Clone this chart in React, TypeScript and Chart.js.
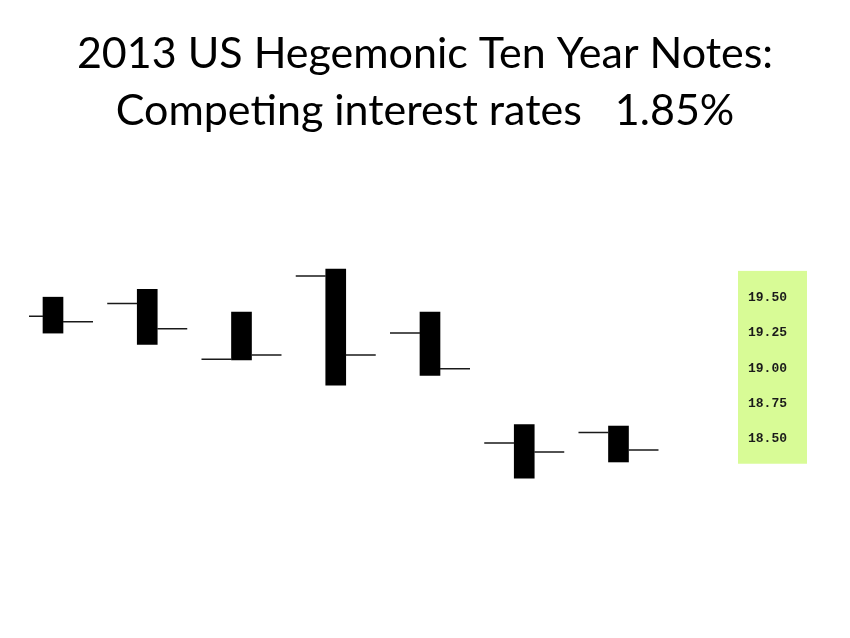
import React, { useEffect, useRef } from 'react';
import { Chart, registerables } from 'chart.js';

Chart.register(...registerables);

const TITLE_LINES = ['2013 US Hegemonic Ten Year Notes:', 'Competing interest rates   1.85%'];
const CATEGORIES = ['1', '2', '3', '4', '5', '6', '7'];
const OPENS = [19.37, 19.46, 19.065, 19.655, 19.25, 18.47, 18.545];
const HIGHS = [19.505, 19.56, 19.40, 19.705, 19.40, 18.60, 18.59];
const LOWS = [19.25, 19.17, 19.06, 18.88, 18.95, 18.22, 18.335];
const CLOSES = [19.33, 19.28, 19.095, 19.095, 18.997, 18.405, 18.42];
const Y_TICKS = [19.5, 19.25, 19.0, 18.75, 18.5];

const ohlcTicks = {
  id: 'ohlcTicks',
  afterDatasetsDraw(chart: any) {
    const { ctx, chartArea } = chart;
    const x = chart.scales.x;
    const y = chart.scales.y;
    ctx.save();
    ctx.beginPath();
    ctx.rect(chartArea.left, chartArea.top, chartArea.right - chartArea.left, chartArea.bottom - chartArea.top);
    ctx.clip();
    ctx.strokeStyle = '#1a1a1a';
    ctx.lineWidth = 1.5;
    CATEGORIES.forEach((_, i) => {
      const cx = x.getPixelForValue(i);
      const yo = y.getPixelForValue(OPENS[i]);
      const yc = y.getPixelForValue(CLOSES[i]);
      ctx.beginPath();
      ctx.moveTo(cx - 40, yo);
      ctx.lineTo(cx - 10, yo);
      ctx.moveTo(cx + 10, yc);
      ctx.lineTo(cx + 40, yc);
      ctx.stroke();
    });
    ctx.restore();
  },
};

const axisBox = {
  id: 'axisBox',
  beforeDraw(chart: any) {
    const { ctx } = chart;
    const y = chart.scales.y;
    const top = y.getPixelForValue(Y_TICKS[0]) - 27;
    const bottom = y.getPixelForValue(Y_TICKS[Y_TICKS.length - 1]) + 25;
    ctx.save();
    ctx.fillStyle = '#d8fb96';
    ctx.fillRect(y.left, top, 69, bottom - top);
    ctx.restore();
  },
};

export default function App() {
  const canvasRef = useRef<HTMLCanvasElement | null>(null);

  useEffect(() => {
    if (!canvasRef.current) return;
    const chart = new Chart(canvasRef.current, {
      type: 'bar',
      data: {
        labels: CATEGORIES,
        datasets: [
          {
            data: CATEGORIES.map((_, i) => ({ x: i, y: [LOWS[i], HIGHS[i]] })) as any,
            backgroundColor: '#000000',
            borderColor: '#333333',
            borderWidth: 0,
            barThickness: 20,
          },
        ],
      },
      options: {
        animation: false,
        responsive: false,
        events: [],
        layout: { padding: { left: 29, right: 29, top: 0, bottom: 118 } },
        plugins: {
          legend: { display: false },
          tooltip: { enabled: false },
          title: {
            display: true,
            text: TITLE_LINES,
            color: '#000000',
            font: { family: 'Lato', size: 43, weight: 'normal', lineHeight: '57px' },
            padding: { top: 26, bottom: 60 },
          },
        },
        scales: {
          x: {
            type: 'linear',
            display: false,
            offset: false,
            min: -0.2546,
            max: 7.268,
          },
          y: {
            position: 'right',
            min: 17.923,
            max: 20.195,
            grid: { display: false, drawTicks: false },
            border: { display: false },
            afterBuildTicks: (scale: any) => {
              scale.ticks = Y_TICKS.map((v) => ({ value: v }));
            },
            afterFit: (scale: any) => {
              scale.width = 83;
            },
            ticks: {
              padding: 10,
              color: '#1a1a1a',
              font: { family: 'Liberation Mono', size: 13, weight: 'bold' },
              callback: (v: any) => Number(v).toFixed(2),
            },
          },
        },
      },
      plugins: [axisBox, ohlcTicks],
    });
    return () => chart.destroy();
  }, []);

  return (
    <div style={{ position: 'absolute', left: 0, top: 0, width: 850, height: 638, background: '#ffffff' }}>
      <canvas ref={canvasRef} width={850} height={638} />
    </div>
  );
}
